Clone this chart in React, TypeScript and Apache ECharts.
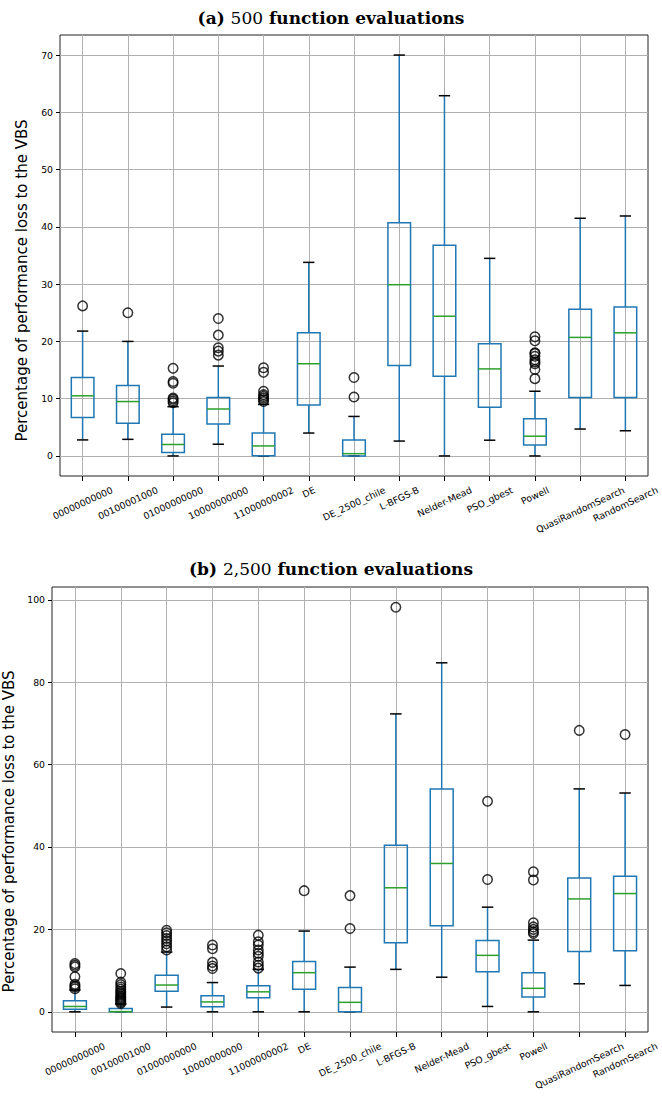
import React, { useEffect, useRef } from "react";
import * as echarts from "echarts";

const categories = [
  "00000000000",
  "00100001000",
  "01000000000",
  "10000000000",
  "11000000002",
  "DE",
  "DE_2500_chile",
  "L-BFGS-B",
  "Nelder-Mead",
  "PSO_gbest",
  "Powell",
  "QuasiRandomSearch",
  "RandomSearch",
];

// [lower whisker, Q1, median, Q3, upper whisker]
const statsA = [
  [2.8, 6.7, 10.5, 13.7, 21.8],
  [2.9, 5.7, 9.5, 12.3, 20.0],
  [0, 0.6, 2.0, 3.8, 8.6],
  [2.05, 5.6, 8.2, 10.2, 15.7],
  [0, 0.05, 1.75, 4.0, 9.0],
  [4.0, 8.9, 16.1, 21.5, 33.8],
  [0, 0, 0.4, 2.8, 6.9],
  [2.6, 15.8, 29.9, 40.7, 70.0],
  [0, 13.9, 24.4, 36.8, 62.9],
  [2.75, 8.5, 15.2, 19.6, 34.5],
  [0, 1.9, 3.45, 6.5, 11.3],
  [4.7, 10.2, 20.7, 25.6, 41.5],
  [4.4, 10.2, 21.5, 26.0, 41.9],
];

const outliersA = [
  [26.2],
  [25.0],
  [9.3, 9.6, 9.9, 10.1, 12.7, 13.0, 15.3],
  [17.6, 18.3, 18.9, 21.1, 24.0],
  [9.5, 9.8, 10.1, 10.4, 10.7, 11.3, 14.6, 15.4],
  [],
  [10.3, 13.7],
  [],
  [],
  [],
  [13.5, 15.1, 16.1, 16.4, 16.8, 17.4, 17.9, 18.0, 20.1, 20.8],
  [],
  [],
];

const statsB = [
  [0, 0.6, 1.3, 2.7, 5.3],
  [0, 0, 0.05, 0.8, 1.9],
  [1.15, 5.0, 6.5, 8.9, 14.5],
  [0, 1.2, 2.4, 3.9, 7.1],
  [0, 3.4, 4.85, 6.3, 10.3],
  [0, 5.5, 9.5, 12.2, 19.6],
  [0, 0, 2.3, 5.9, 10.85],
  [10.3, 16.75, 30.1, 40.4, 72.3],
  [8.4, 20.9, 36.0, 54.05, 84.7],
  [1.3, 9.7, 13.7, 17.3, 25.4],
  [0, 3.6, 5.7, 9.5, 17.4],
  [6.8, 14.65, 27.4, 32.5, 54.1],
  [6.4, 14.8, 28.7, 32.9, 53.1],
];

const outliersB = [
  [5.6, 6.0, 6.3, 6.7, 8.5, 10.9, 11.3, 11.7],
  [2.0, 2.3, 2.6, 2.9, 3.2, 3.5, 3.8, 4.2, 4.6, 5.0, 5.5, 6.0, 6.6, 7.2, 9.3],
  [15.0, 15.8, 16.5, 17.2, 17.8, 18.5, 19.2, 19.8],
  [10.5, 11.1, 12.0, 15.3, 16.2],
  [10.6, 11.3, 12.1, 13.5, 14.2, 15.0, 16.2, 17.0, 18.6],
  [29.4],
  [20.2, 28.2],
  [98.2],
  [],
  [32.1, 51.1],
  [19.0, 19.4, 20.0, 20.6, 21.6, 32.0, 34.0],
  [68.3],
  [67.3],
];

const ticksA = [0, 10, 20, 30, 40, 50, 60, 70];
const ticksB = [0, 20, 40, 60, 80, 100];
const gridPositions = [1, 2, 3, 4, 5, 6, 7, 8, 9, 10, 11, 12, 13];

const yName = "Percentage of performance loss to the VBS";
const titleA = ["(a) ", "500", " function evaluations"];
const titleB = ["(b) ", "2,500", " function evaluations"];

const FONT = "DejaVu Sans";
const LABEL_SIZE = 9.3;
const ROT = 25;
const TOP_GAP = 9;
const BLUE = "#1f77b4";
const GREEN = "#2ca02c";
const GRID_COLOR = "#b0b0b0";

function measure(text: string, size: number): number {
  const ctx = document.createElement("canvas").getContext("2d");
  if (!ctx) return text.length * size * 0.62;
  ctx.font = `${size}px "${FONT}"`;
  return ctx.measureText(text).width;
}

// Per-label style so that each rotated label's bounding box is centred
// under its tick with its top a fixed gap below the axis.
function categoryData() {
  const th = (ROT * Math.PI) / 180;
  return categories.map((name) => {
    const L = measure(name, LABEL_SIZE);
    const h = LABEL_SIZE;
    const H = L * Math.sin(th) + h * Math.cos(th);
    const s = TOP_GAP + H / 2;
    const down = s * Math.cos(th);
    return {
      value: name,
      textStyle: {
        align: "center",
        verticalAlign: "middle",
        fontSize: LABEL_SIZE,
        fontFamily: FONT,
        color: "#000",
        lineHeight: 2 * down,
        padding: [0, 2 * s * Math.sin(th), 0, 0],
      },
    };
  });
}

function boxSeries(stats: number[][], axisIndex: number) {
  return {
    type: "custom",
    xAxisIndex: axisIndex * 2,
    yAxisIndex: axisIndex,
    data: stats.map((s, i) => [i, ...s]),
    encode: { x: 0, y: [1, 2, 3, 4, 5] },
    z: 3,
    renderItem: (params: any, api: any) => {
      const i = api.value(0);
      const lo = api.coord([i, api.value(1)]);
      const q1 = api.coord([i, api.value(2)]);
      const med = api.coord([i, api.value(3)]);
      const q3 = api.coord([i, api.value(4)]);
      const hi = api.coord([i, api.value(5)]);
      const band = api.size([1, 0])[0];
      const bw = band * 0.25;
      const cw = band * 0.125;
      const x = lo[0];
      const lw = 1.5;
      return {
        type: "group",
        children: [
          { type: "line", shape: { x1: x, y1: q1[1], x2: x, y2: lo[1] }, style: { stroke: BLUE, lineWidth: lw } },
          { type: "line", shape: { x1: x, y1: q3[1], x2: x, y2: hi[1] }, style: { stroke: BLUE, lineWidth: lw } },
          { type: "line", shape: { x1: x - cw, y1: lo[1], x2: x + cw, y2: lo[1] }, style: { stroke: "#000", lineWidth: lw } },
          { type: "line", shape: { x1: x - cw, y1: hi[1], x2: x + cw, y2: hi[1] }, style: { stroke: "#000", lineWidth: lw } },
          {
            type: "rect",
            shape: { x: x - bw, y: q3[1], width: 2 * bw, height: q1[1] - q3[1] },
            style: { fill: "none", stroke: BLUE, lineWidth: lw },
          },
          { type: "line", shape: { x1: x - bw, y1: med[1], x2: x + bw, y2: med[1] }, style: { stroke: GREEN, lineWidth: lw } },
        ],
      };
    },
  };
}

function outlierSeries(outs: number[][], axisIndex: number) {
  const data: number[][] = [];
  outs.forEach((arr, i) => arr.forEach((v) => data.push([i, v])));
  return {
    type: "scatter",
    xAxisIndex: axisIndex * 2,
    yAxisIndex: axisIndex,
    data,
    symbol: "circle",
    symbolSize: 9.5,
    z: 4,
    itemStyle: { color: "rgba(0,0,0,0)", borderColor: "#000", borderWidth: 1.5 },
  };
}

function catAxis(gridIndex: number) {
  return {
    gridIndex,
    type: "category",
    position: "bottom",
    data: categoryData(),
    boundaryGap: true,
    axisLine: { show: false, onZero: false },
    axisTick: { show: true, alignWithLabel: true, length: 5, lineStyle: { color: "#000", width: 1 } },
    axisLabel: {
      interval: 0,
      rotate: ROT,
      margin: 0,
      fontSize: LABEL_SIZE,
      fontFamily: FONT,
      color: "#000",
      formatter: (v: string) => "\n" + v,
    },
    splitLine: { show: false },
  };
}

function gridXAxis(gridIndex: number) {
  return {
    gridIndex,
    type: "value",
    position: "top",
    min: 0.5,
    max: 13.5,
    axisLine: { show: false, onZero: false },
    axisTick: { show: false, customValues: gridPositions },
    axisLabel: { show: false, customValues: gridPositions },
    splitLine: { show: true, lineStyle: { color: GRID_COLOR, width: 1 } },
  };
}

function valAxis(gridIndex: number, min: number, max: number, step: number, ticks: number[], nameGap: number, nameShift: number) {
  return {
    gridIndex,
    type: "value",
    min,
    max,
    minInterval: step,
    maxInterval: step,
    axisLine: { show: false, onZero: false },
    axisTick: { show: true, length: 4, lineStyle: { color: "#000", width: 1 }, customValues: ticks },
    axisLabel: {
      customValues: ticks,
      fontSize: LABEL_SIZE,
      fontFamily: FONT,
      color: "#000",
      margin: 7,
      formatter: (v: number) => (ticks.indexOf(v) >= 0 ? String(v) : ""),
    },
    splitLine: { show: true, lineStyle: { color: GRID_COLOR, width: 1 } },
    name: yName,
    nameLocation: "middle",
    nameGap,
    nameTextStyle: { fontSize: 15, fontFamily: FONT, color: "#000", padding: [0, 2 * nameShift, 0, 0] },
  };
}

function titleOpt(parts: string[], top: number) {
  return {
    text: `{b|${parts[0]}}{n|${parts[1]}}{b|${parts[2]}}`,
    left: "center",
    top,
    padding: 0,
    textStyle: {
      rich: {
        b: { fontFamily: "DejaVu Serif", fontWeight: "bold", fontSize: 17, color: "#000" },
        n: { fontFamily: "DejaVu Serif", fontWeight: "normal", fontSize: 17, color: "#000" },
      },
    },
  };
}

export default function App() {
  const ref = useRef<HTMLDivElement>(null);
  useEffect(() => {
    if (!ref.current) return;
    const chart = echarts.init(ref.current, undefined, { renderer: "svg" });
    chart.setOption({
      animation: false,
      backgroundColor: "#fff",
      textStyle: { fontFamily: FONT },
      title: [titleOpt(titleA, 9), titleOpt(titleB, 560)],
      grid: [
        { left: 60, top: 35, width: 588, height: 441, show: true, borderColor: "#222", borderWidth: 1, backgroundColor: "transparent", containLabel: false, outerBoundsMode: "none" },
        { left: 52, top: 587, width: 596, height: 445, show: true, borderColor: "#222", borderWidth: 1, backgroundColor: "transparent", containLabel: false, outerBoundsMode: "none" },
      ],
      xAxis: [catAxis(0), gridXAxis(0), catAxis(1), gridXAxis(1)],
      yAxis: [valAxis(0, -3.5, 73.5, 10, ticksA, 31, 25), valAxis(1, -4.9, 103.1, 20, ticksB, 34, 22)],
      series: [
        boxSeries(statsA, 0),
        outlierSeries(outliersA, 0),
        boxSeries(statsB, 1),
        outlierSeries(outliersB, 1),
      ],
    });
    return () => chart.dispose();
  }, []);
  return (
    <div
      ref={ref}
      style={{ position: "absolute", left: 0, top: 0, width: 662, height: 1096, background: "#fff" }}
    />
  );
}
